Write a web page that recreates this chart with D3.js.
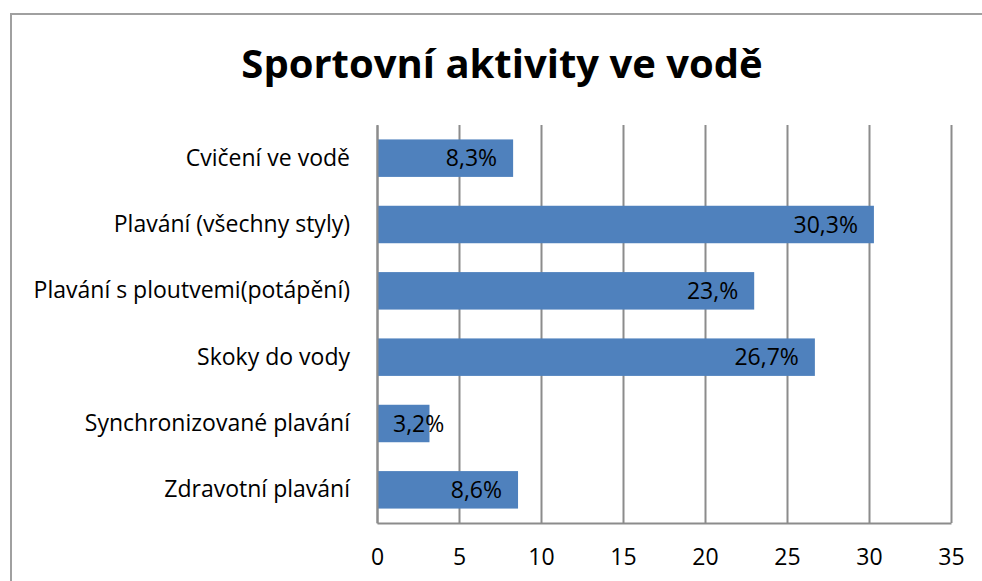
<!DOCTYPE html>
<html>
<head>
<meta charset="utf-8">
<script src="https://cdn.jsdelivr.net/npm/d3@7"></script>
<style>
  body { margin: 0; background: #fff; }
  svg { display: block; font-family: "Open Sans", sans-serif; }
</style>
</head>
<body>
<svg id="chart" width="982" height="581"></svg>
<script>
let categories = ["Cvičení ve vodě", "Plavání (všechny styly)", "Plavání s ploutvemi(potápění)",
  "Skoky do vody", "Synchronizované plavání", "Zdravotní plavání"];
let values = [8.3, 30.3, 23, 26.7, 3.2, 8.6];
let value_labels = ["8,3%", "30,3%", "23,%", "26,7%", "3,2%", "8,6%"];
let x_ticks = [0, 5, 10, 15, 20, 25, 30, 35];
let title = "Sportovní aktivity ve vodě";

let layout = {
  plot: {x0: 377, x1: 951, y0: 125, y1: 523},
  font: 23
};

let svg = d3.select('#chart');

// outer frame (only top and left edges visible in the crop)
svg.append('rect').attr('x', 11).attr('y', 14).attr('width', 1000).attr('height', 600)
  .style('fill', 'none').style('stroke', '#a0a0a0').style('stroke-width', 2);

svg.append('text').attr('x', 502).attr('y', 78).attr('text-anchor', 'middle')
  .style('font-size', '40px').style('font-weight', 'bold').text(title);

let x = d3.scaleLinear().domain([0, 35]).range([layout.plot.x0, layout.plot.x1]);
let y = d3.scaleBand().domain(categories).range([layout.plot.y0, layout.plot.y1])
  .paddingInner(0.435).paddingOuter(0.2175);

// gridlines
let grid = svg.append('g').attr('class', 'grid')
  .attr('transform', 'translate(0,' + layout.plot.y1 + ')')
  .call(d3.axisBottom(x).tickValues(x_ticks).tickSize(-(layout.plot.y1 - layout.plot.y0)).tickFormat(''));
grid.select('.domain').remove();
grid.selectAll('line').style('stroke', '#8c8c8c').style('stroke-width', 2);

// bars
svg.append('g').selectAll('rect').data(values).enter().append('rect')
  .attr('x', x(0))
  .attr('y', function(d, i) { return y(categories[i]); })
  .attr('width', function(d) { return x(d) - x(0); })
  .attr('height', y.bandwidth())
  .style('fill', '#4f81bd');

// value labels, inside end; pushed right when the bar is too short
let lbl = svg.append('g').selectAll('text').data(values).enter().append('text')
  .attr('y', function(d, i) { return y(categories[i]) + y.bandwidth() / 2; })
  .attr('dy', '0.35em')
  .style('font-size', layout.font + 'px')
  .text(function(d, i) { return value_labels[i]; });
lbl.each(function(d) {
  let w = this.getComputedTextLength();
  let xe = x(d) - 16;
  if (xe - w < x(0) + 16) xe = x(0) + 16 + w;
  d3.select(this).attr('x', xe).attr('text-anchor', 'end');
});

// axes
let ax = svg.append('g').attr('transform', 'translate(0,' + layout.plot.y1 + ')')
  .call(d3.axisBottom(x).tickValues(x_ticks).tickSize(0).tickPadding(26));
ax.select('.domain').style('stroke', '#8c8c8c').style('stroke-width', 2);
ax.selectAll('text').style('font-size', layout.font + 'px').style('font-family', '"Open Sans", sans-serif').attr('fill', '#000');

let ay = svg.append('g').attr('transform', 'translate(' + layout.plot.x0 + ',0)')
  .call(d3.axisLeft(y).tickSize(0).tickPadding(27));
ay.select('.domain').style('stroke', '#8c8c8c').style('stroke-width', 2);
ay.selectAll('text').style('font-size', layout.font + 'px').style('font-family', '"Open Sans", sans-serif').attr('fill', '#000');
</script>
</body>
</html>
